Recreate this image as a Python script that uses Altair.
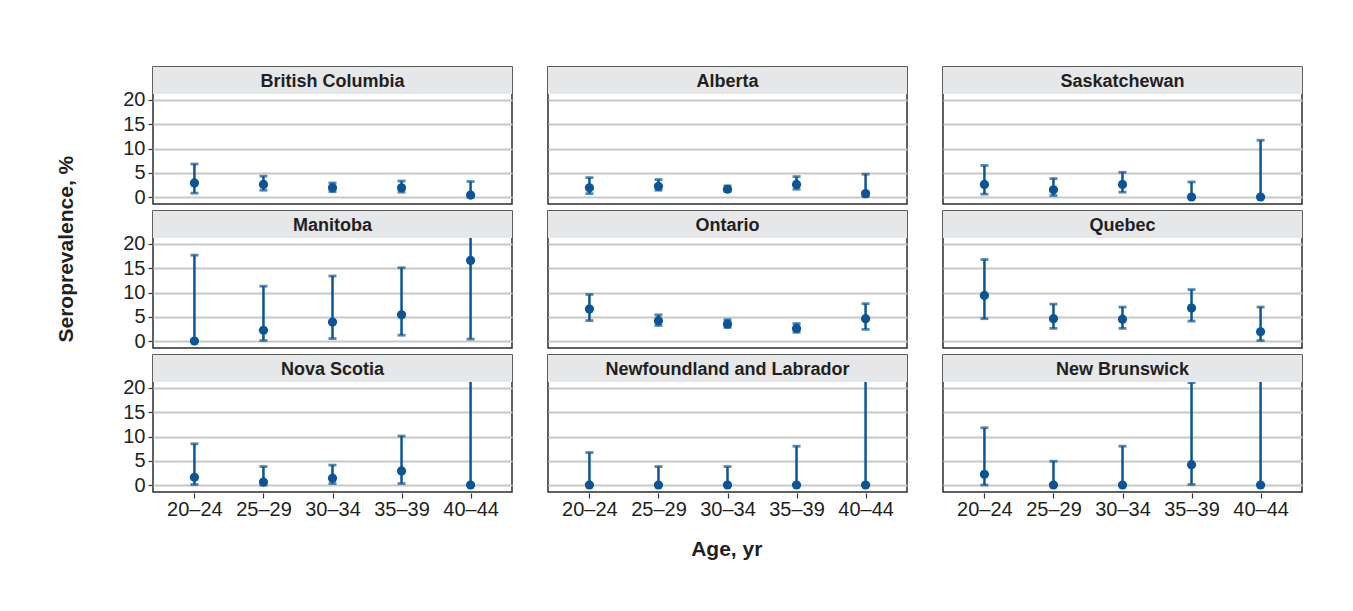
import altair as alt
import pandas as pd

provinces = ["British Columbia", "Alberta", "Saskatchewan",
             "Manitoba", "Ontario", "Quebec",
             "Nova Scotia", "Newfoundland and Labrador", "New Brunswick"]
ages = ["20–24", "25–29", "30–34", "35–39", "40–44"]

estimate = {
    "British Columbia": [2.9, 2.6, 1.9, 1.9, 0.4],
    "Alberta": [1.9, 2.2, 1.6, 2.6, 0.7],
    "Saskatchewan": [2.6, 1.5, 2.6, 0.0, 0.0],
    "Manitoba": [0.0, 2.2, 3.9, 5.4, 16.6],
    "Ontario": [6.6, 4.2, 3.5, 2.6, 4.6],
    "Quebec": [9.4, 4.6, 4.5, 6.8, 1.9],
    "Nova Scotia": [1.6, 0.6, 1.4, 2.9, 0.0],
    "Newfoundland and Labrador": [0.0, 0.0, 0.0, 0.0, 0.0],
    "New Brunswick": [2.2, 0.0, 0.0, 4.2, 0.0],
}
lower = {
    "British Columbia": [0.8, 1.4, 1.1, 1.0, 0.0],
    "Alberta": [0.7, 1.4, 1.2, 1.6, 0.1],
    "Saskatchewan": [0.6, 0.3, 1.0, 0.0, 0.0],
    "Manitoba": [0.0, 0.1, 0.5, 1.2, 0.4],
    "Ontario": [4.2, 3.2, 2.8, 1.8, 2.4],
    "Quebec": [4.6, 2.6, 2.6, 4.1, 0.1],
    "Nova Scotia": [0.1, 0.0, 0.3, 0.3, 0.0],
    "Newfoundland and Labrador": [0.0, 0.0, 0.0, 0.0, 0.0],
    "New Brunswick": [0.0, 0.0, 0.0, 0.1, 0.0],
}
upper = {
    "British Columbia": [6.8, 4.3, 2.9, 3.3, 3.2],
    "Alberta": [4.0, 3.6, 2.3, 4.2, 4.7],
    "Saskatchewan": [6.5, 3.8, 5.1, 3.1, 11.7],
    "Manitoba": [17.7, 11.3, 13.4, 15.1, 23.5],
    "Ontario": [9.6, 5.4, 4.4, 3.6, 7.7],
    "Quebec": [16.8, 7.6, 7.0, 10.6, 7.0],
    "Nova Scotia": [8.5, 3.8, 4.1, 10.1, 30.0],
    "Newfoundland and Labrador": [6.7, 3.8, 3.8, 8.0, 30.0],
    "New Brunswick": [11.8, 4.9, 8.0, 21.1, 30.0],
}

rows = []
for k, p in enumerate(provinces):
    for i, a in enumerate(ages):
        rows.append({"province": p, "r": k // 3, "c": k % 3, "age": a,
                     "est": estimate[p][i], "lo": lower[p][i], "hi": upper[p][i]})
df = pd.DataFrame(rows)

BLUE = "#0b5596"
INK = "#231f20"
W, H = 359, 137
HEAD = 27
FONT = "Liberation Sans"

xenc = alt.X("age:N", sort=ages,
             scale=alt.Scale(type="point", padding=0.6),
             axis=alt.Axis(title=None, labelAngle=0, grid=False,
                           tickSize=5, labelPadding=1))
yscale = alt.Scale(domain=[-1.44, 26.8], nice=False, zero=False)
yaxis = alt.Axis(title=None, values=[0, 5, 10, 15, 20],
                 tickSize=4, labelPadding=3)

base = alt.Chart()

rule = base.mark_rule(color=BLUE, strokeWidth=2.5, clip=True).encode(
    x=xenc, y=alt.Y("lo:Q", scale=yscale, axis=yaxis), y2="hi:Q")
cap_lo = base.mark_tick(color=BLUE, size=8, thickness=2.8, clip=True).encode(
    x=xenc, y=alt.Y("lo:Q", scale=yscale, axis=yaxis))
cap_hi = base.mark_tick(color=BLUE, size=8, thickness=2.8, clip=True).encode(
    x=xenc, y=alt.Y("hi:Q", scale=yscale, axis=yaxis))
pts = base.mark_circle(color=BLUE, size=85, opacity=1).encode(
    x=xenc, y=alt.Y("est:Q", scale=yscale, axis=yaxis))

head_rect = base.transform_filter(alt.datum.age == ages[0]).mark_rect(
    color="#e6e7e9").encode(
    x=alt.value(0), x2=alt.value(W), y=alt.value(0), y2=alt.value(HEAD))
head_text = base.transform_filter(alt.datum.age == ages[0]).mark_text(
    font=FONT, fontSize=18, fontWeight="bold", color=INK,
    baseline="middle", align="center").encode(
    x=alt.value(W / 2), y=alt.value(HEAD / 2 + 1), text="province:N")

layer = alt.layer(rule, cap_lo, cap_hi, pts, head_rect, head_text).properties(
    width=W, height=H)

grid = layer.facet(
    data=df,
    row=alt.Row("r:O", header=alt.Header(labels=False, title=None)),
    column=alt.Column("c:O", header=alt.Header(labels=False, title=None)),
    spacing={"row": 5, "column": 34},
).properties(
    title=alt.TitleParams("Age, yr", orient="bottom", anchor="middle",
                          font=FONT, fontSize=21, fontWeight="bold",
                          color=INK, offset=20, dx=14)
)

chart = alt.hconcat(grid).properties(
    title=alt.TitleParams("Seroprevalence, %", orient="left", anchor="middle",
                          font=FONT, fontSize=21, fontWeight="bold",
                          color=INK, offset=46, dx=64),
    padding={"left": 47, "top": 58, "right": 5, "bottom": 5}
).configure_view(
    stroke="#2b2b2b", strokeWidth=1.5
).configure_header(
    labels=False
).configure_axis(
    gridColor="#c8c8c8", gridWidth=2, tickColor="#333333", tickWidth=1.2,
    domain=False, labelFont=FONT, labelFontSize=20, labelColor=INK
)

chart.save("out.html", embed_options={"renderer": "svg", "actions": False})
